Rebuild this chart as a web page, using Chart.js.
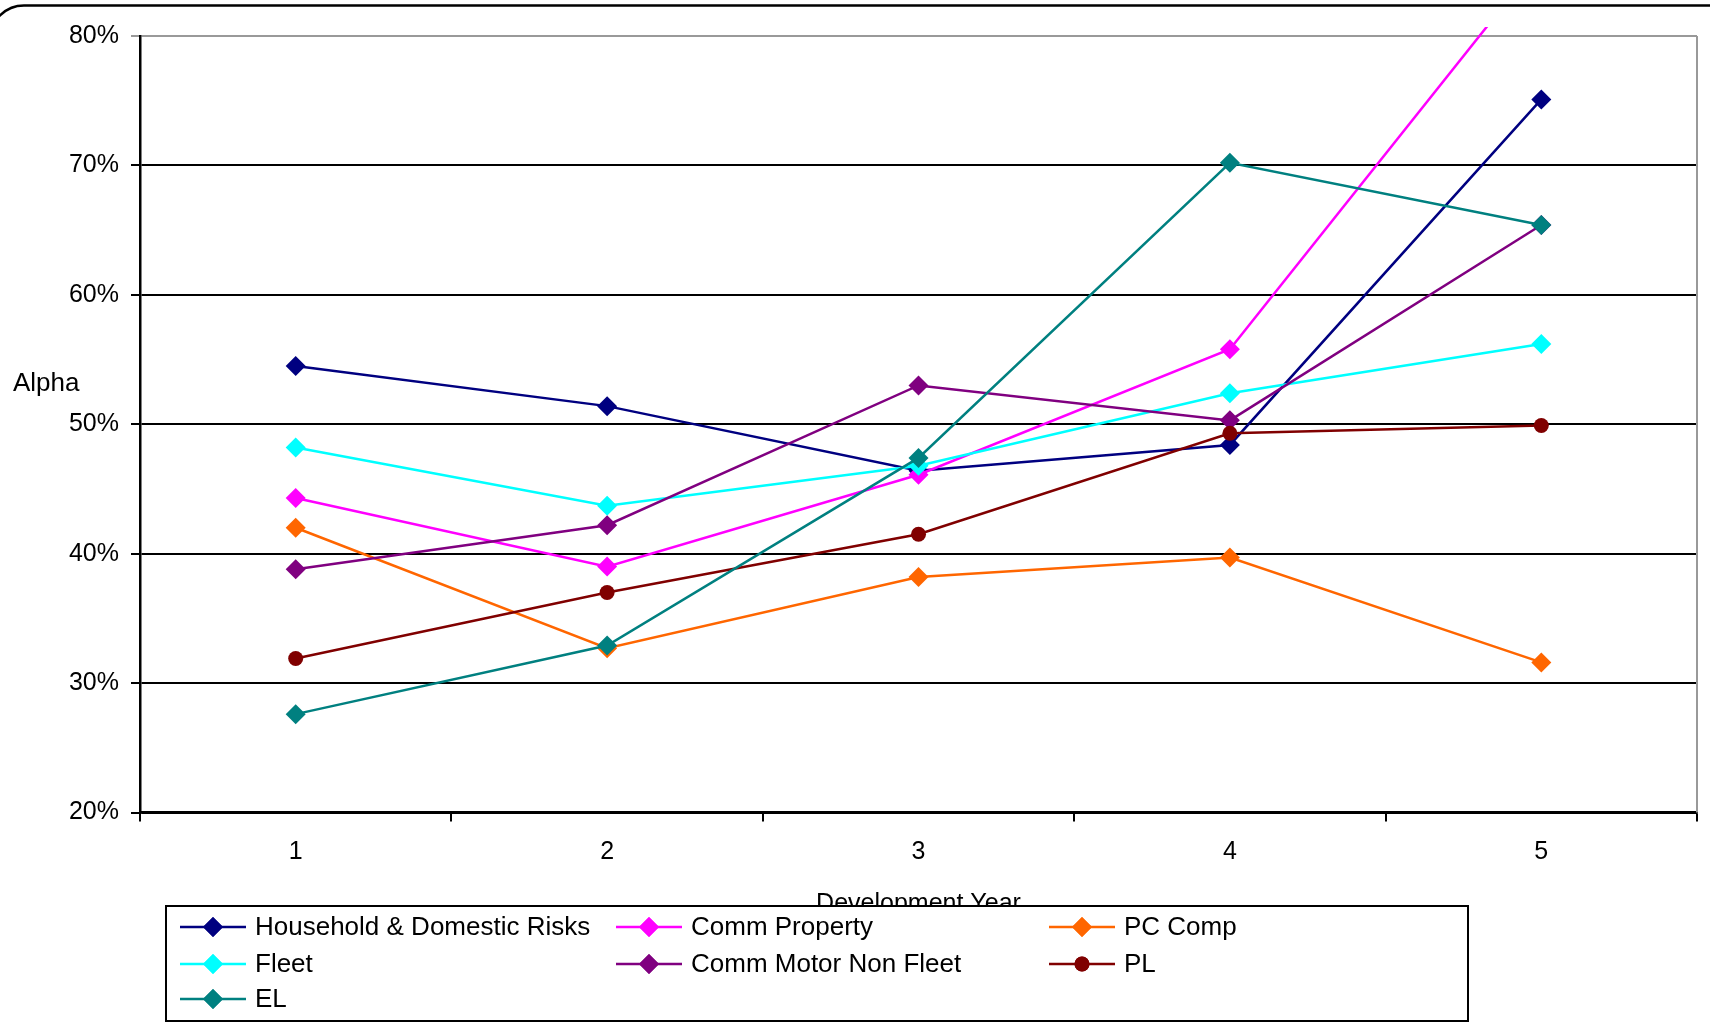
<!DOCTYPE html>
<html>
<head>
<meta charset="utf-8">
<script src="https://cdn.jsdelivr.net/npm/chart.js@4.4.0/dist/chart.umd.min.js"></script>
<style>
    html, body { margin: 0; padding: 0; background: #fff; }
</style>
</head>
<body>
<canvas id="alphaChart" width="1710" height="1022"></canvas>
<script>
// development years on the x axis
var years = ['1', '2', '3', '4', '5'];

// alpha values, in percent
var household = [54.5, 51.4, 46.4, 48.4, 75.1];
var commProperty = [44.3, 39.0, 46.1, 55.8, 86.0];
var pcComp = [42.0, 32.7, 38.2, 39.7, 31.6];
var fleet = [48.2, 43.7, 46.8, 52.4, 56.2];
var commMotor = [38.8, 42.2, 53.0, 50.3, 65.4];
var pl = [31.9, 37.0, 41.5, 49.3, 49.9];
var el = [27.6, 32.9, 47.4, 70.2, 65.4];

var seriesNames = ['Household & Domestic Risks', 'Comm Property', 'PC Comp',
    'Fleet', 'Comm Motor Non Fleet', 'PL', 'EL'];
var seriesValues = [household, commProperty, pcComp, fleet, commMotor, pl, el];
var seriesColors = ['#000080', '#FF00FF', '#FF6600', '#00FFFF', '#800080', '#800000', '#008080'];
var seriesMarkers = ['rectRot', 'rectRot', 'rectRot', 'rectRot', 'rectRot', 'circle', 'rectRot'];

var yTicks = [20, 30, 40, 50, 60, 70, 80];

var FONT = 'Liberation Sans, Arial, sans-serif';
Chart.defaults.font.family = FONT;
Chart.defaults.color = '#000';

var datasets = seriesNames.map(function (name, i) {
    return {
        label: name,
        data: seriesValues[i],
        borderColor: seriesColors[i],
        backgroundColor: seriesColors[i],
        borderWidth: 2.5,
        pointStyle: seriesMarkers[i],
        pointRadius: seriesMarkers[i] === 'circle' ? 7.5 : 10,
        pointBorderWidth: 0,
        tension: 0,
        order: -i,
        // the comm property line runs a little past the top of the plot
        clip: i === 1 ? { left: 0, top: 9, right: 0, bottom: 0 } : 0
    };
});

// frame, texts and the legend box
var decorPlugin = {
    id: 'decor',
    beforeDraw: function (chart) {
        var ctx = chart.ctx;
        ctx.save();
        ctx.strokeStyle = '#000';
        ctx.lineWidth = 2.5;
        ctx.beginPath();
        ctx.roundRect(-10, 5.5, 1900, 1200, 34);
        ctx.stroke();
        ctx.restore();
    },
    beforeDatasetsDraw: function (chart) {
        var a = chart.chartArea;
        var ctx = chart.ctx;
        ctx.save();
        ctx.strokeStyle = '#999';
        ctx.lineWidth = 2;
        ctx.beginPath();
        ctx.moveTo(a.right, a.top);
        ctx.lineTo(a.right, a.bottom);
        ctx.stroke();
        ctx.restore();
    },
    afterDraw: function (chart) {
        var ctx = chart.ctx;
        var a = chart.chartArea;
        ctx.save();
        ctx.fillStyle = '#000';
        ctx.font = '26px ' + FONT;
        ctx.textBaseline = 'middle';
        ctx.textAlign = 'left';
        ctx.fillText('Alpha', 13, 384);

        ctx.textAlign = 'center';
        ctx.textBaseline = 'alphabetic';
        ctx.font = '25px ' + FONT;
        ctx.fillText('Development Year', (a.left + a.right) / 2, 911);

        // legend
        ctx.fillStyle = '#fff';
        ctx.fillRect(166, 906, 1302, 115);
        ctx.strokeStyle = '#000';
        ctx.lineWidth = 2;
        ctx.strokeRect(166, 906, 1302, 115);

        var colX = [180, 616, 1049];
        var rowY = [927, 964, 999];
        ctx.font = '26px ' + FONT;
        ctx.textAlign = 'left';
        ctx.textBaseline = 'middle';
        chart.data.datasets.forEach(function (ds, i) {
            var x = colX[i % 3];
            var y = rowY[Math.floor(i / 3)];
            ctx.strokeStyle = ds.borderColor;
            ctx.lineWidth = 2.5;
            ctx.beginPath();
            ctx.moveTo(x, y);
            ctx.lineTo(x + 66, y);
            ctx.stroke();
            ctx.fillStyle = ds.backgroundColor;
            Chart.helpers.drawPoint(ctx, {
                pointStyle: ds.pointStyle,
                radius: ds.pointRadius,
                borderWidth: 0,
                rotation: 0
            }, x + 33, y);
            ctx.fill();
            ctx.fillStyle = '#000';
            ctx.fillText(ds.label, x + 75, y + 1);
        });
        ctx.restore();
    }
};

var chartElement = document.getElementById('alphaChart');
var myChart = new Chart(chartElement.getContext('2d'), {
    type: 'line',
    data: {
        labels: years,
        datasets: datasets
    },
    options: {
        responsive: false,
        animation: false,
        layout: {
            padding: { top: 36, right: 13, left: 0, bottom: 0 }
        },
        plugins: {
            legend: { display: false },
            tooltip: { enabled: false }
        },
        scales: {
            x: {
                type: 'category',
                offset: true,
                afterFit: function (scale) { scale.height = 209.5; },
                border: { color: '#000', width: 2.5 },
                grid: {
                    offset: true,
                    drawOnChartArea: false,
                    drawTicks: true,
                    tickLength: 9,
                    color: '#000',
                    lineWidth: 2
                },
                ticks: {
                    font: { size: 25 },
                    padding: 16,
                    maxRotation: 0
                }
            },
            y: {
                min: 20,
                max: 80,
                afterFit: function (scale) { scale.width = 140; },
                afterBuildTicks: function (scale) {
                    scale.ticks = yTicks.map(function (v) { return { value: v }; });
                },
                border: { color: '#000', width: 2.5 },
                grid: {
                    color: function (c) { return c.tick && c.tick.value === 80 ? '#999' : '#000'; },
                    lineWidth: 2,
                    tickLength: 9
                },
                ticks: {
                    font: { size: 25 },
                    padding: 12,
                    callback: function (v) { return v + '%'; }
                }
            }
        }
    },
    plugins: [decorPlugin]
});
</script>
</body>
</html>
